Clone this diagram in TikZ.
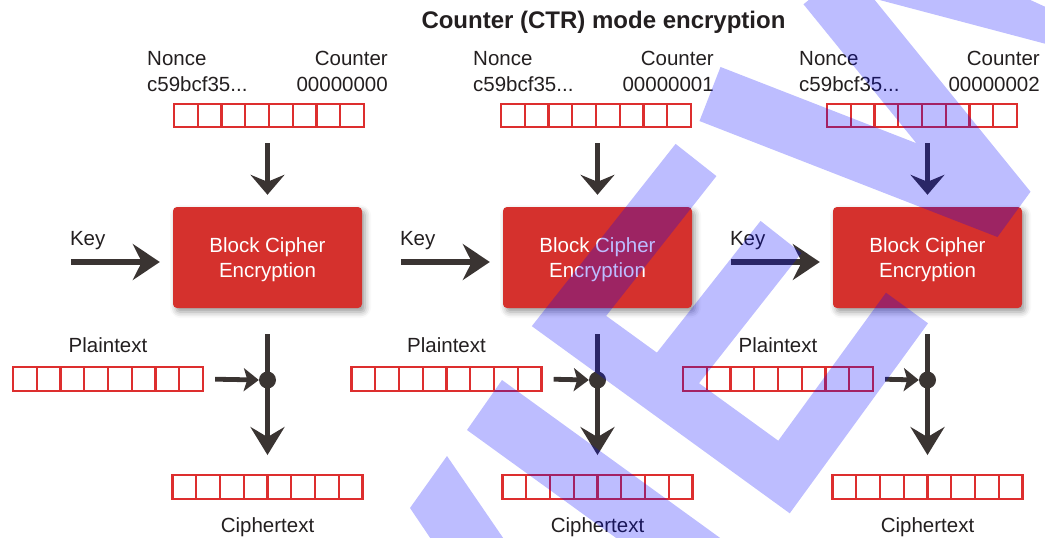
\documentclass[tikz,border=0pt]{standalone}
\usepackage{fontspec}
\setmainfont{Liberation Sans}
\usetikzlibrary{arrows.meta,calc,shadows.blur}

\definecolor{blockred}{RGB}{213,49,45}
\definecolor{cellred}{RGB}{221,46,46}
\definecolor{ink}{RGB}{58,52,50}
\definecolor{textc}{RGB}{35,31,32}
\definecolor{wm}{RGB}{0,0,255}

\tikzset{
  lbl/.style={font=\fontsize{20.5}{24}\selectfont, text=textc, inner sep=0pt},
  titlelbl/.style={font=\fontsize{24}{28}\selectfont\bfseries, text=textc, inner sep=0pt},
  strip/.style={draw=cellred, line width=2.4pt, minimum width=190pt, minimum height=23.5pt,
    inner sep=0pt,
    path picture={
      \foreach \k in {1,...,7}{
        \draw[cellred, line width=2.4pt]
          ($(path picture bounding box.north west)!\k/8!(path picture bounding box.north east)$) --
          ($(path picture bounding box.south west)!\k/8!(path picture bounding box.south east)$);
      }}},
  cipher/.style={rectangle, rounded corners=4pt, fill=blockred, minimum width=189pt,
    minimum height=101pt, text=white, align=center, inner sep=0pt, text depth=0pt,
    font=\fontsize{20.5}{25}\selectfont,
    blur shadow={shadow xshift=3pt, shadow yshift=-4pt, shadow blur radius=6pt, shadow opacity=40}},
  feed/.style={draw=ink, line width=5pt, -{Stealth[length=20pt,width=34pt,inset=7pt]}},
  keyarr/.style={draw=ink, line width=5.5pt, -{Stealth[length=27pt,width=36pt,inset=9pt]}},
  outarr/.style={draw=ink, line width=5pt, -{Stealth[length=28pt,width=34pt,inset=10pt]}},
  xorin/.style={draw=ink, line width=4.8pt, -{Stealth[length=15pt,width=23pt,inset=3.5pt]}},
  flow/.style={draw=ink, line width=5pt},
  junction/.style={circle, fill=ink, minimum size=17pt, inner sep=0pt},
  wmstroke/.style={draw=wm, draw opacity=0.26, line cap=butt},
  wmfill/.style={fill=wm, fill opacity=0.26}
}

\begin{document}
\begin{tikzpicture}[x=1pt,y=-1pt]
\useasboundingbox (0,0) rectangle (1045,538);

\node[titlelbl, anchor=base] (title) at (603.5,28) {Counter (CTR) mode encryption};

\foreach \i/\bx/\rx/\px/\lx/\cv in {1/267.5/269/108/147/00000000,
                                   2/597.5/596/446.5/473/00000001,
                                   3/927.5/922/778/799/00000002} {
  % block cipher stage
  \node[cipher] (blk\i) at (\bx,257.5) {Block Cipher\\Encryption};

  % nonce and counter input
  \node[strip] (ctr\i) at (\rx,115.5) {};
  \node[lbl, anchor=base west] (nonce\i) at (\lx,65) {Nonce};
  \node[lbl, anchor=base west] (nval\i) at (\lx,91) {c59bcf35...};
  \node[lbl, anchor=base east] (cnt\i) at (\lx+241,65) {Counter};
  \node[lbl, anchor=base east] (cval\i) at (\lx+241,91) {\cv};
  \draw[feed, shorten <=15pt, shorten >=12pt] (blk\i.north |- ctr\i.south) -- (blk\i.north);

  % key input
  \coordinate (ks\i) at ($(blk\i.west)+(-102,4.5)$);
  \node[lbl, anchor=base west] (key\i) at ($(ks\i)+(-1,-17)$) {Key};
  \draw[keyarr, shorten >=13pt] (ks\i) -- (blk\i.west |- ks\i);

  % XOR with plaintext
  \node[junction] (dot\i) at (\bx,380) {};
  \draw[flow] ([yshift=-26pt]blk\i.south) -- (dot\i.center);
  \node[strip] (pt\i) at (\px,379) {};
  \node[lbl, anchor=base] (ptl\i) at (\px,352) {Plaintext};
  \draw[xorin, shorten <=11pt] (pt\i.east) -- (dot\i.west);

  % ciphertext output
  \node[strip] (ct\i) at (\bx,487) {};
  \node[lbl, anchor=base] (ctl\i) at (\bx,532) {Ciphertext};
  \draw[outarr, shorten >=19pt] (dot\i.center) -- (ct\i.north);
}

% translucent overlay strokes
\begin{scope}
  \clip (0,0) rectangle (1045,538);
  \draw[wmstroke, line width=52pt, line join=miter]
    (696,160) -- (569,321) -- (784,477) -- (907,308)
    (781,237) -- (670,378);
  \draw[wmstroke, line width=58pt, line join=bevel]
    (710,94) -- (1008,210) -- (826,-14);
  \fill[wmfill] (872,-2) -- (1026,-2) -- (1050,9) -- (1050,45) -- cycle;
  \fill[wmfill] (502,380) -- (734,548) -- (630,548) -- (467,430) -- cycle;
  \fill[wmfill] (447,456) -- (510,548) -- (437,548) -- (410,508) -- cycle;
\end{scope}
\end{tikzpicture}
\end{document}
